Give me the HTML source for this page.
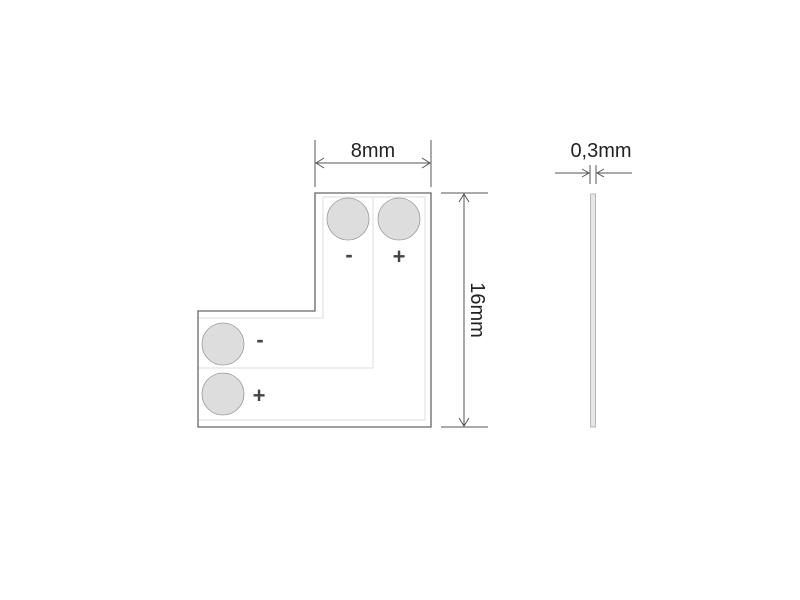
<!DOCTYPE html>
<html><head><style>body{margin:0;background:#fff}svg{display:block}</style></head><body>
<svg width="800" height="600" xmlns="http://www.w3.org/2000/svg" font-family="Liberation Sans, sans-serif">
<rect width="800" height="600" fill="#fff"/>
<g fill="none" stroke="#ddd" stroke-width="1">
<polyline points="323,197 323,318 198,318"/>
<polyline points="373,197 373,368 198,368"/>
<polyline points="323,197 425,197 425,420 198,420"/>
</g>
<polygon points="315,193 431,193 431,427 198,427 198,311 315,311" fill="none" stroke="#666" stroke-width="1.3"/>
<g fill="#ddd" stroke="#999" stroke-width="0.8">
<circle cx="348" cy="219" r="21"/><circle cx="399" cy="219" r="21"/>
<circle cx="223" cy="344" r="21"/><circle cx="223" cy="394" r="21"/>
</g>
<g fill="#444" font-size="22" text-anchor="middle" font-weight="bold">
<text x="349" y="262">-</text><text x="399" y="264">+</text>
<text x="260" y="347">-</text><text x="259" y="403">+</text>
</g>
<g stroke="#555" stroke-width="1" fill="none">
<line x1="315" y1="140" x2="315" y2="187"/><line x1="431" y1="140" x2="431" y2="187"/>
<line x1="316" y1="163" x2="430" y2="163"/>
<polyline points="324,158 316,163 324,168"/><polyline points="422,158 430,163 422,168"/>
<line x1="441" y1="193" x2="488" y2="193"/><line x1="441" y1="427" x2="488" y2="427"/>
<line x1="464" y1="194" x2="464" y2="426"/>
<polyline points="459,202 464,194 469,202"/><polyline points="459,418 464,426 469,418"/>
<line x1="590" y1="165" x2="590" y2="184"/><line x1="596" y1="165" x2="596" y2="184"/>
<line x1="555" y1="173" x2="589" y2="173"/><line x1="597" y1="173" x2="632" y2="173"/>
<polyline points="582,169 589,173 582,177"/><polyline points="604,169 597,173 604,177"/>
</g>
<rect x="590.5" y="194" width="5" height="233" fill="#e6e6e6" stroke="#aaa" stroke-width="0.8"/>
<g fill="#222" font-size="20" text-anchor="middle">
<text x="373" y="157">8mm</text>
<text x="601" y="157">0,3mm</text>
<text transform="translate(471,310) rotate(90)">16mm</text>
</g>
</svg>
</body></html>
